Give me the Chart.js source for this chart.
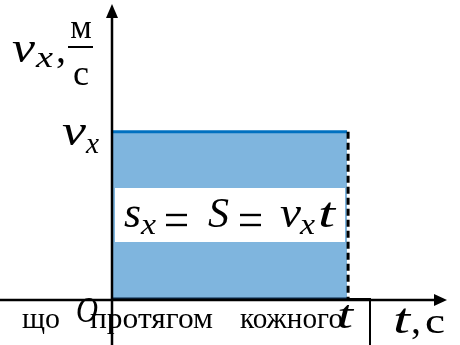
<!DOCTYPE html>
<html>
<head>
<meta charset="utf-8">
<script src="https://cdn.jsdelivr.net/npm/chart.js@4"></script>
<style>
html,body{margin:0;padding:0;background:#fff;}
canvas{display:block;}
</style>
</head>
<body>
<canvas id="c" width="460" height="345"></canvas>
<script>
// Data
const timeValues = [0, 10];
const velocityValues = [10, 10];
const xAxisRange = [0, 14.25];
const yAxisRange = [0, 17.6];
const yAxisName = 'v';
const yAxisSub = 'x';
const yUnitTop = 'м';
const yUnitBottom = 'с';
const xAxisName = 't';
const xUnit = 'с';
const originLabel = 'O';
const tickLabelT = 't';
const bottomWords = ['що', 'протягом', 'кожного'];
const formulaParts = ['s', 'x', 'S', 'v', 'x', 't'];

const SERIF = '"Liberation Serif", "DejaVu Serif", serif';

function txt(ctx, s, x, y, font, align) {
  ctx.font = font;
  ctx.textAlign = align || 'left';
  ctx.textBaseline = 'alphabetic';
  ctx.fillStyle = '#000';
  ctx.fillText(s, x, y);
}
function fit(ctx, s, left, y, width, font) {
  ctx.save();
  ctx.font = font;
  ctx.textAlign = 'left';
  ctx.textBaseline = 'alphabetic';
  ctx.fillStyle = '#000';
  const w = ctx.measureText(s).width;
  ctx.translate(left, y);
  ctx.scale(width / w, 1);
  ctx.fillText(s, 0, 0);
  ctx.restore();
}
function line(ctx, x1, y1, x2, y2, w, color, dash) {
  ctx.save();
  ctx.beginPath();
  ctx.lineWidth = w;
  ctx.strokeStyle = color || '#000';
  ctx.setLineDash(dash || []);
  ctx.moveTo(x1, y1);
  ctx.lineTo(x2, y2);
  ctx.stroke();
  ctx.restore();
}
function tri(ctx, pts) {
  ctx.beginPath();
  ctx.moveTo(pts[0][0], pts[0][1]);
  ctx.lineTo(pts[1][0], pts[1][1]);
  ctx.lineTo(pts[2][0], pts[2][1]);
  ctx.closePath();
  ctx.fillStyle = '#000';
  ctx.fill();
}
function eq(ctx, left, right, yTop, yBot) {
  line(ctx, left, yTop, right, yTop, 2.4);
  line(ctx, left, yBot, right, yBot, 2.4);
}

const overlay = {
  id: 'overlay',
  afterDatasetsDraw(chart) {
    const ctx = chart.ctx;
    const xs = chart.scales.x, ys = chart.scales.y;
    const x0 = xs.getPixelForValue(timeValues[0]);
    const x1 = xs.getPixelForValue(timeValues[1]);
    const yv = ys.getPixelForValue(velocityValues[0]);
    const y0 = ys.getPixelForValue(0);

    // white formula box
    ctx.fillStyle = '#fff';
    ctx.fillRect(115, 188, 230, 54);
    // formula
    const it = 'italic 44px ' + SERIF;
    const sub = 'italic 30px ' + SERIF;
    const rom = '40px ' + SERIF;
    fit(ctx, formulaParts[0], 124, 227, 17, it);
    fit(ctx, formulaParts[1], 141, 234, 15, sub);
    eq(ctx, 166, 187, 215, 225);
    fit(ctx, formulaParts[2], 208, 227, 21, 'italic 42px ' + SERIF);
    eq(ctx, 240, 261, 215, 225);
    fit(ctx, formulaParts[3], 280, 227, 21, it);
    fit(ctx, formulaParts[4], 300, 234, 15, sub);
    fit(ctx, formulaParts[5], 318, 227, 17, 'italic 42px ' + SERIF);

    // rectangle bottom dark line
    line(ctx, x0, y0 - 1, x1, y0 - 1, 3, '#0b2540');
    // dashed right edge
    line(ctx, x1 + 1, yv, x1 + 1, y0 - 1, 3, '#000', [7, 4]);

    // y axis
    line(ctx, x0, 17, x0, 345, 2.5);
    tri(ctx, [[x0, 4], [x0 - 6, 18], [x0 + 6, 18]]);
    // x axis
    line(ctx, 0, y0, 436, y0, 2.5);
    tri(ctx, [[447, y0], [434, y0 - 6], [434, y0 + 6]]);

    // table cell border artifact
    line(ctx, x1, y0 - 1, 371, y0 - 1, 2);
    line(ctx, 370, y0 - 1, 370, 345, 2);

    // y axis title
    fit(ctx, yAxisName, 12, 62, 23, it);
    fit(ctx, yAxisSub, 36, 67, 17, sub);
    txt(ctx, ',', 56, 62, rom, 'left');
    txt(ctx, yUnitTop, 81, 38, '34px ' + SERIF, 'center');
    line(ctx, 68, 47, 93, 47, 2);
    txt(ctx, yUnitBottom, 81, 85, '36px ' + SERIF, 'center');

    // v_x tick label
    fit(ctx, yAxisName, 62, 145, 24, it);
    fit(ctx, yAxisSub, 86, 153, 13, sub);

    // bottom words
    const bw = '30px ' + SERIF;
    fit(ctx, bottomWords[0], 22, 328, 38, bw);
    fit(ctx, bottomWords[1], 90, 328, 123, bw);
    fit(ctx, bottomWords[2], 240, 328, 103, bw);

    // origin and t
    fit(ctx, originLabel, 76, 322, 22, 'italic 36px ' + SERIF);
    fit(ctx, tickLabelT, 337, 328, 16, 'italic 40px ' + SERIF);

    // x axis title
    fit(ctx, xAxisName, 393, 333, 17, 'italic 42px ' + SERIF);
    txt(ctx, ',', 411, 333, rom, 'left');
    fit(ctx, xUnit, 425, 333, 20, '36px ' + SERIF);
  }
};

new Chart(document.getElementById('c'), {
  type: 'line',
  data: {
    datasets: [{
      data: timeValues.map((t, i) => ({ x: t, y: velocityValues[i] })),
      borderColor: '#0070C0',
      borderWidth: 3,
      backgroundColor: '#7FB5DE',
      fill: 'origin',
      pointRadius: 0,
      tension: 0
    }]
  },
  options: {
    responsive: false,
    animation: false,
    devicePixelRatio: 1,
    layout: { padding: { left: 112, right: 13, top: 4, bottom: 45 } },
    plugins: { legend: { display: false }, tooltip: { enabled: false } },
    scales: {
      x: { type: 'linear', min: xAxisRange[0], max: xAxisRange[1], display: false },
      y: { type: 'linear', min: yAxisRange[0], max: yAxisRange[1], display: false }
    }
  },
  plugins: [overlay]
});
</script>
</body>
</html>
